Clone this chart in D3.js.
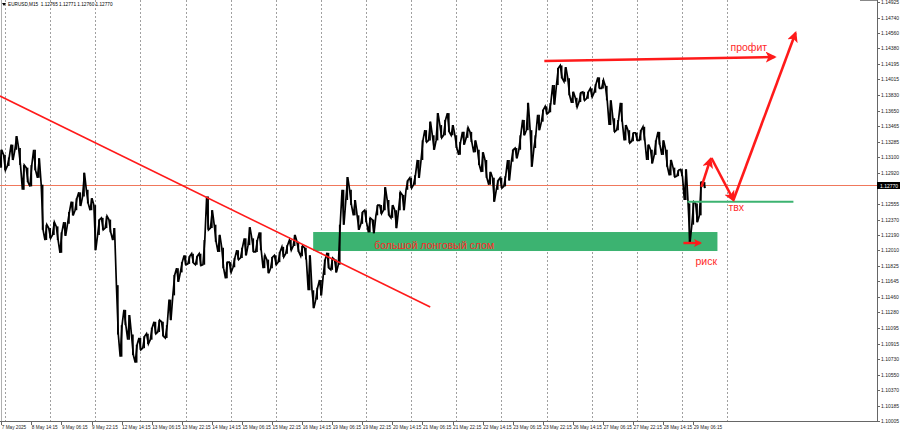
<!DOCTYPE html>
<html><head><meta charset="utf-8">
<script src="https://cdn.jsdelivr.net/npm/d3@7"></script>
<style>html,body{margin:0;padding:0;background:#fff;overflow:hidden}</style>
</head><body><svg id="c" width="900" height="432"></svg>
<script>
// ---------------- data ----------------
const headerText = "EURUSD,M15  1.12765 1.12771 1.12760 1.12770";
const priceTicks = [1.14925,1.14740,1.14560,1.14380,1.14195,1.14015,1.13830,1.13650,1.13465,1.13285,
  1.13100,1.12920,1.12740,1.12555,1.12370,1.12190,1.12010,1.11825,1.11645,1.11460,1.11280,1.11095,
  1.10915,1.10730,1.10550,1.10370,1.10185,1.10005];
const dateLabels = ["7 May 2025","8 May 14:15","9 May 06:15","9 May 22:15","12 May 14:15","13 May 06:15",
  "13 May 22:15","14 May 14:15","15 May 06:15","15 May 22:15","16 May 14:15","19 May 06:15","19 May 22:15",
  "20 May 14:15","21 May 06:15","21 May 22:15","22 May 14:15","23 May 06:15","23 May 22:15","26 May 14:15",
  "27 May 06:15","27 May 22:15","28 May 14:15","29 May 06:15"];
const barsPerLabel = 64;     // M15 bars between time labels (16 h)
const barsPerDay = 96;
const firstDayBar = 8;
const barsPerSample = 8;     // each sample = 2 hours of M15 bars (high / low)
const highs = [1.1319,1.1313,1.1310,1.1325,1.1335,1.1321,1.1301,1.1298,1.1301,1.1319,
  1.1309,1.1278,1.1231,1.1227,1.1234,1.1229,1.1222,1.1234,1.1246,1.1258,
  1.1262,1.1269,1.1292,1.1272,1.1262,1.1254,1.1237,1.1239,1.1241,1.1237,
  1.1227,1.1160,1.1113,1.1131,1.1125,1.1102,1.1090,1.1098,1.1100,1.1103,
  1.1110,1.1117,1.1119,1.1117,1.1113,1.1143,1.1172,1.1180,1.1187,1.1195,
  1.1194,1.1197,1.1194,1.1197,1.1213,1.1264,1.1248,1.1231,1.1219,1.1204,
  1.1187,1.1187,1.1192,1.1201,1.1204,1.1215,1.1228,1.1215,1.1213,1.1222,
  1.1195,1.1190,1.1193,1.1195,1.1199,1.1205,1.1207,1.1213,1.1219,1.1211,
  1.1206,1.1204,1.1195,1.1154,1.1157,1.1166,1.1190,1.1198,1.1192,1.1190,
  1.1231,1.1272,1.1287,1.1272,1.1260,1.1242,1.1246,1.1248,1.1239,1.1237,
  1.1254,1.1254,1.1275,1.1260,1.1254,1.1248,1.1269,1.1266,1.1283,1.1286,
  1.1289,1.1307,1.1330,1.1342,1.1352,1.1336,1.1362,1.1348,1.1354,1.1362,
  1.1348,1.1336,1.1328,1.1340,1.1345,1.1340,1.1330,1.1319,1.1316,1.1307,
  1.1293,1.1286,1.1283,1.1286,1.1288,1.1307,1.1319,1.1321,1.1336,1.1354,
  1.1374,1.1342,1.1336,1.1360,1.1366,1.1370,1.1374,1.1395,1.1415,1.1418,
  1.1416,1.1403,1.1387,1.1380,1.1386,1.1387,1.1387,1.1391,1.1396,1.1404,
  1.1401,1.1394,1.1377,1.1356,1.1354,1.1374,1.1348,1.1342,1.1339,1.1339,
  1.1342,1.1346,1.1325,1.1319,1.1330,1.1340,1.1330,1.1319,1.1307,1.1298,
  1.1295,1.1296,1.1296,1.1256,1.1258,1.1256,1.1281,1.1281];
const lows = [1.1298,1.1295,1.1300,1.1307,1.1319,1.1301,1.1272,1.1281,1.1276,1.1295,
  1.1286,1.1225,1.1213,1.1215,1.1219,1.1213,1.1198,1.1218,1.1232,1.1242,
  1.1248,1.1253,1.1264,1.1256,1.1248,1.1201,1.1219,1.1225,1.1227,1.1222,
  1.1213,1.1102,1.1076,1.1113,1.1096,1.1078,1.1069,1.1084,1.1086,1.1091,
  1.1096,1.1103,1.1105,1.1100,1.1098,1.1119,1.1148,1.1164,1.1175,1.1184,
  1.1185,1.1186,1.1184,1.1183,1.1184,1.1225,1.1227,1.1211,1.1199,1.1180,
  1.1168,1.1175,1.1181,1.1190,1.1192,1.1195,1.1207,1.1199,1.1199,1.1201,
  1.1180,1.1174,1.1180,1.1184,1.1187,1.1193,1.1197,1.1201,1.1206,1.1199,
  1.1194,1.1190,1.1154,1.1133,1.1143,1.1148,1.1172,1.1180,1.1178,1.1175,
  1.1184,1.1231,1.1260,1.1254,1.1242,1.1225,1.1232,1.1234,1.1222,1.1221,
  1.1242,1.1244,1.1248,1.1242,1.1239,1.1227,1.1248,1.1248,1.1272,1.1274,
  1.1278,1.1286,1.1307,1.1328,1.1330,1.1319,1.1330,1.1333,1.1336,1.1340,
  1.1336,1.1321,1.1313,1.1325,1.1333,1.1328,1.1316,1.1301,1.1293,1.1286,
  1.1278,1.1258,1.1272,1.1274,1.1276,1.1283,1.1305,1.1309,1.1319,1.1336,
  1.1342,1.1299,1.1321,1.1342,1.1352,1.1361,1.1363,1.1372,1.1395,1.1403,
  1.1399,1.1383,1.1374,1.1369,1.1375,1.1377,1.1379,1.1381,1.1386,1.1391,
  1.1391,1.1377,1.1348,1.1340,1.1342,1.1352,1.1330,1.1327,1.1329,1.1330,
  1.1330,1.1330,1.1307,1.1303,1.1313,1.1325,1.1313,1.1299,1.1289,1.1287,
  1.1288,1.1288,1.1260,1.1210,1.1231,1.1234,1.1242,1.1274];
const lastPrice = 1.12770;
// annotations (bar index, price)
const trendLine = [[-2.8, 1.13821], [912.5, 1.11344]];
const zoneBars = [663.5, 1523.4];
const zonePrices = [1.12224, 1.12001];
const zoneText = {bar: 793.3, price: 1.12025, text: "большой лонговый слом"};
const profitLine = [[1155.2, 1.14232], [1644.8, 1.14279]];
const profitText = {bar: 1551.1, price: 1.14349, text: "профит"};
const entryLine = [[1459.6, 1.12580], [1685.0, 1.12580]];
const entryText = {bar: 1546.8, price: 1.12471, text: "твх"};
const pathUp1 = [[1489.4, 1.12753], [1508.5, 1.13081]];
const pathDown = [[1510.6, 1.13093], [1557.4, 1.12600]];
const pathUp2 = [[1557.4, 1.12600], [1689.4, 1.14561]];
const riskArrow = [[1451.0, 1.12095], [1487.2, 1.12095]];
const riskText = {bar: 1476.6, price: 1.11837, text: "риск"};

// ---------------- drawing ----------------
const W = 900, H = 432, axisX = 877, axisY = 421;
const svg = d3.select("#c");
const x = d3.scaleLinear().domain([0, 1863]).range([1.24, 877.1]);
const y = d3.scaleLinear().domain([1.10005, 1.14925]).range([421, 2]);
const RED = "#ff1a1a", GREEN = "#3cb371";
const small = "'Liberation Sans', Arial, sans-serif";

svg.append("rect").attr("width", W).attr("height", H).attr("fill", "#fff");

const defs = svg.append("defs");
function marker(id, size) {
  defs.append("marker").attr("id", id).attr("viewBox", "0 0 10 10")
    .attr("refX", 8).attr("refY", 5).attr("markerUnits", "userSpaceOnUse")
    .attr("markerWidth", size).attr("markerHeight", size).attr("orient", "auto")
    .append("path").attr("d", "M0,0 L10,5 L0,10 L2.5,5 Z").attr("fill", RED);
}
marker("ah", 11); marker("ahs", 8);

// grid (day separators)
const dayBars = d3.range(firstDayBar, 1560, barsPerDay);
svg.append("g").selectAll("line").data(dayBars).join("line")
  .attr("x1", d => Math.round(x(d)) + 0.5).attr("x2", d => Math.round(x(d)) + 0.5)
  .attr("y1", 0).attr("y2", axisY)
  .attr("stroke", "#a0a0a0").attr("stroke-width", 1).attr("stroke-dasharray", "2,2");
svg.append("line").attr("x1", 1.5).attr("x2", 1.5).attr("y1", 0).attr("y2", axisY)
  .attr("stroke", "#b0b0b0").attr("stroke-width", 1);

// break zone
svg.append("rect").attr("x", x(zoneBars[0])).attr("width", x(zoneBars[1]) - x(zoneBars[0]))
  .attr("y", y(zonePrices[0])).attr("height", y(zonePrices[1]) - y(zonePrices[0]))
  .attr("fill", GREEN);

// bid line
const bidY = Math.round(y(lastPrice)) - 0.5;
svg.append("line").attr("x1", 0).attr("x2", axisX).attr("y1", bidY).attr("y2", bidY)
  .attr("stroke", "#f0785c").attr("stroke-width", 1);

// price trace (2-hour high/low samples, drawn as a jagged M15-like trace)
const samples = highs.map((h, i) => ({bar: i * barsPerSample, high: h, low: lows[i]}));
svg.append("g").selectAll("line").data(samples).join("line")
  .attr("x1", d => x(d.bar)).attr("x2", d => x(d.bar))
  .attr("y1", d => y(d.high)).attr("y2", d => y(d.low))
  .attr("stroke", "#000").attr("stroke-width", 1.7);
const zig = [];
samples.forEach((d, i) => {
  const a = i % 2 ? d.high : d.low, b = i % 2 ? d.low : d.high;
  zig.push([x(d.bar - 3), y(a)]);
  zig.push([x(d.bar + 1), y(b)]);
});
svg.append("path").attr("d", d3.line()(zig)).attr("fill", "none").attr("stroke", "#000")
  .attr("stroke-width", 1.7).attr("stroke-linejoin", "miter");

// annotations
const ln = d3.line().x(d => x(d[0])).y(d => y(d[1]));
svg.append("path").attr("d", ln(trendLine)).attr("stroke", RED).attr("stroke-width", 1.6).attr("fill", "none");
svg.append("path").attr("d", ln(entryLine)).attr("stroke", GREEN).attr("stroke-width", 2).attr("fill", "none");
svg.append("path").attr("d", ln(profitLine)).attr("stroke", RED).attr("stroke-width", 2.6).attr("fill", "none").attr("marker-end", "url(#ah)");
svg.append("path").attr("d", ln(pathUp1)).attr("stroke", RED).attr("stroke-width", 2.6).attr("fill", "none").attr("marker-end", "url(#ah)");
svg.append("path").attr("d", ln(pathDown)).attr("stroke", RED).attr("stroke-width", 2.6).attr("fill", "none").attr("marker-end", "url(#ah)");
svg.append("path").attr("d", ln(pathUp2)).attr("stroke", RED).attr("stroke-width", 2.6).attr("fill", "none").attr("marker-end", "url(#ah)");
svg.append("path").attr("d", ln(riskArrow)).attr("stroke", RED).attr("stroke-width", 2.4).attr("fill", "none").attr("marker-end", "url(#ahs)");

const big = "'Liberation Sans', Arial, sans-serif";
[zoneText, profitText, entryText, riskText].forEach(t => {
  svg.append("text").attr("x", x(t.bar)).attr("y", y(t.price)).text(t.text)
    .attr("fill", "#ff2a2a").attr("font-family", big).attr("font-size", 10.5);
});

// axes
svg.append("line").attr("x1", axisX + 0.5).attr("x2", axisX + 0.5).attr("y1", 0).attr("y2", axisY + 0.5).attr("stroke", "#666");
svg.append("line").attr("x1", 0).attr("x2", axisX + 0.5).attr("y1", axisY + 0.5).attr("y2", axisY + 0.5).attr("stroke", "#666");
svg.append("line").attr("x1", 860).attr("x2", axisX).attr("y1", 0.5).attr("y2", 0.5).attr("stroke", "#888");
const visibleTicks = priceTicks.filter(v => Math.abs(y(v) - y(lastPrice)) > 4.5);
const pt = svg.append("g");
pt.selectAll("line").data(priceTicks).join("line")
  .attr("x1", axisX).attr("x2", axisX + 3).attr("y1", d => Math.round(y(d)) + 0.5).attr("y2", d => Math.round(y(d)) + 0.5)
  .attr("stroke", "#666");
pt.selectAll("text").data(visibleTicks).join("text")
  .attr("x", axisX + 4).attr("y", d => y(d) + 2).text(d => d.toFixed(5))
  .attr("font-family", small).attr("font-size", 5).attr("fill", "#222");
// bid label (covers the nearby tick label, as in the terminal)
svg.append("rect").attr("x", axisX).attr("y", bidY - 3.5).attr("width", 23).attr("height", 7).attr("fill", "#000");
svg.append("text").attr("x", axisX + 3).attr("y", bidY + 2).text(lastPrice.toFixed(5))
  .attr("font-family", small).attr("font-size", 5).attr("fill", "#fff");
const dt = svg.append("g");
dt.selectAll("line").data(dateLabels).join("line")
  .attr("x1", (d, i) => Math.round(x(i * barsPerLabel)) + 0.5).attr("x2", (d, i) => Math.round(x(i * barsPerLabel)) + 0.5)
  .attr("y1", axisY).attr("y2", axisY + 4).attr("stroke", "#666");
dt.selectAll("text").data(dateLabels).join("text")
  .attr("x", (d, i) => x(i * barsPerLabel) + 0.5).attr("y", 429).text(d => d)
  .attr("font-family", small).attr("font-size", 4.7).attr("fill", "#222");

// header
svg.append("path").attr("d", "M2,3 L6,3 L4,6 Z").attr("fill", "#000");
svg.append("text").attr("x", 8).attr("y", 6.3).text(headerText)
  .attr("font-family", small).attr("font-size", 4.7).attr("fill", "#000").attr("xml:space", "preserve");
</script></body></html>
